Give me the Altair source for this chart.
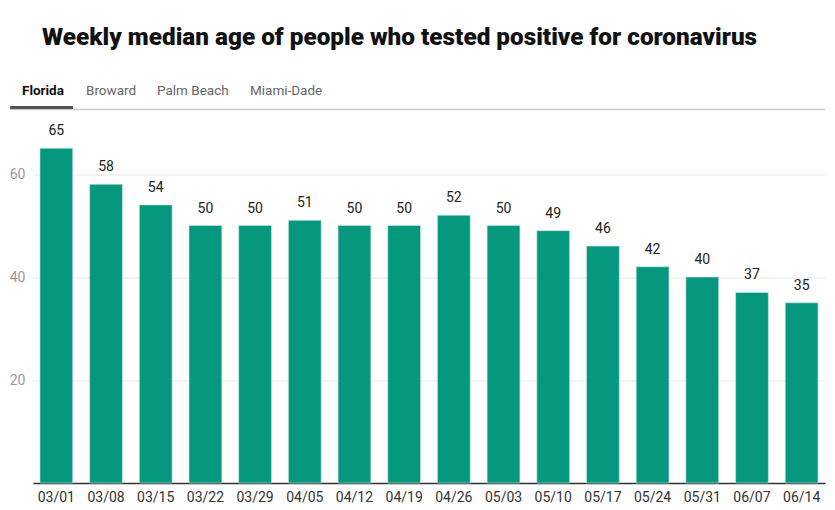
import altair as alt
import pandas as pd

weeks = ["03/01", "03/08", "03/15", "03/22", "03/29", "04/05", "04/12", "04/19",
         "04/26", "05/03", "05/10", "05/17", "05/24", "05/31", "06/07", "06/14"]
median_age = [65, 58, 54, 50, 50, 51, 50, 50, 52, 50, 49, 46, 42, 40, 37, 35]
tabs = ["Florida", "Broward", "Palm Beach", "Miami-Dade"]
title_text = "Weekly median age of people who tested positive for coronavirus"

df = pd.DataFrame({"week": weeks, "age": median_age})

FONT = "Roboto"
W, H = 792, 360.5

x = alt.X("week:N", sort=weeks,
          scale=alt.Scale(paddingInner=0.34, paddingOuter=0.14),
          axis=alt.Axis(title=None, labelAngle=0, ticks=False, domainColor="#333",
                        domainWidth=1.5, labelColor="#333", labelFontSize=14,
                        labelFont=FONT, labelPadding=7))
y = alt.Y("age:Q", scale=alt.Scale(domain=[0, 70], nice=False),
          axis=alt.Axis(title=None, values=[20, 40, 60], ticks=False, domain=False,
                        gridColor="#e8e8e8", labelColor="#999", labelFontSize=14,
                        labelFont=FONT, labelPadding=8))

base = alt.Chart(df)
bars = base.mark_bar(color="#05987e", stroke="#cfe9e2", strokeWidth=0.6).encode(x=x, y=y)
labels = base.mark_text(baseline="bottom", dy=-10, fontSize=14, font=FONT,
                        color="#222").encode(x=x, y=y, text="age:Q")

layers = [bars, labels]

# header decorations
tdf = pd.DataFrame({"t": [title_text]})
layers.append(alt.Chart(tdf).mark_text(align="left", baseline="middle", fontSize=24.3,
                                       fontWeight=900, font=FONT, color="#111").encode(
    x=alt.value(9), y=alt.value(-84.5), text="t:N"))

tab_x = [-11, 53, 124, 217]
for i, name in enumerate(tabs):
    d = pd.DataFrame({"t": [name]})
    layers.append(alt.Chart(d).mark_text(
        align="left", baseline="middle", fontSize=13.5, font=FONT,
        fontWeight="bold" if i == 0 else "normal",
        color="#111" if i == 0 else "#666").encode(
        x=alt.value(tab_x[i]), y=alt.value(-31.5), text="t:N"))

sep = pd.DataFrame({"k": [1]})
layers.append(alt.Chart(sep).mark_rule(color="#cccccc", strokeWidth=1.5).encode(
    x=alt.value(-23), x2=alt.value(792), y=alt.value(-13)))
layers.append(alt.Chart(sep).mark_rule(color="#555555", strokeWidth=3).encode(
    x=alt.value(-23), x2=alt.value(40), y=alt.value(-15)))

chart = alt.layer(*layers).properties(
    width=W, height=H,
    autosize=alt.AutoSizeParams(type="none"),
    padding={"left": 25, "top": 114.5, "right": 2, "bottom": 24},
).configure(background="white").configure_view(stroke=None, strokeWidth=0)

chart.save("out.html", embed_options={"renderer": "svg", "actions": False})
